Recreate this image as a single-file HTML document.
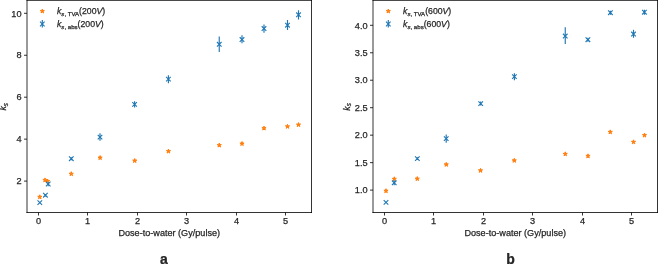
<!DOCTYPE html>
<html><head><meta charset="utf-8"><style>
html,body{margin:0;padding:0;background:#fff;width:658px;height:264px;overflow:hidden}
svg{display:block;will-change:transform}
text{font-family:"Liberation Sans", sans-serif;fill:#262626;stroke:#262626;stroke-width:0.25px}
</style></head><body>
<svg width="658" height="264" viewBox="0 0 658 264">
<rect width="658" height="264" fill="#fff"/>
<path d="M27.0,0.4H311.5M27.0,212.5H311.5M27.0,0.4V212.5M311.5,0.4V212.5" stroke="#000" stroke-width="0.8" fill="none" stroke-linecap="square"/>
<path d="M38.5,212.5v3" stroke="#000" stroke-width="0.8"/><text x="38.5" y="223.9" text-anchor="middle" font-size="9.2">0</text><path d="M87.5,212.5v3" stroke="#000" stroke-width="0.8"/><text x="87.5" y="223.9" text-anchor="middle" font-size="9.2">1</text><path d="M137.5,212.5v3" stroke="#000" stroke-width="0.8"/><text x="137.5" y="223.9" text-anchor="middle" font-size="9.2">2</text><path d="M186.5,212.5v3" stroke="#000" stroke-width="0.8"/><text x="186.5" y="223.9" text-anchor="middle" font-size="9.2">3</text><path d="M236.5,212.5v3" stroke="#000" stroke-width="0.8"/><text x="236.5" y="223.9" text-anchor="middle" font-size="9.2">4</text><path d="M285.5,212.5v3" stroke="#000" stroke-width="0.8"/><text x="285.5" y="223.9" text-anchor="middle" font-size="9.2">5</text>
<path d="M27.0,13.3h-3" stroke="#000" stroke-width="0.8"/><text x="21.6" y="16.5" text-anchor="end" font-size="9.2">10</text><path d="M27.0,55.25h-3" stroke="#000" stroke-width="0.8"/><text x="21.6" y="58.45" text-anchor="end" font-size="9.2">8</text><path d="M27.0,97.2h-3" stroke="#000" stroke-width="0.8"/><text x="21.6" y="100.4" text-anchor="end" font-size="9.2">6</text><path d="M27.0,139.15h-3" stroke="#000" stroke-width="0.8"/><text x="21.6" y="142.35" text-anchor="end" font-size="9.2">4</text><path d="M27.0,181.1h-3" stroke="#000" stroke-width="0.8"/><text x="21.6" y="184.29999999999998" text-anchor="end" font-size="9.2">2</text>
<path d="M373.0,0.4H657.5M373.0,212.5H657.5M373.0,0.4V212.5M657.5,0.4V212.5" stroke="#000" stroke-width="0.8" fill="none" stroke-linecap="square"/>
<path d="M384.5,212.5v3" stroke="#000" stroke-width="0.8"/><text x="384.5" y="223.9" text-anchor="middle" font-size="9.2">0</text><path d="M433.5,212.5v3" stroke="#000" stroke-width="0.8"/><text x="433.5" y="223.9" text-anchor="middle" font-size="9.2">1</text><path d="M483.5,212.5v3" stroke="#000" stroke-width="0.8"/><text x="483.5" y="223.9" text-anchor="middle" font-size="9.2">2</text><path d="M532.5,212.5v3" stroke="#000" stroke-width="0.8"/><text x="532.5" y="223.9" text-anchor="middle" font-size="9.2">3</text><path d="M582.5,212.5v3" stroke="#000" stroke-width="0.8"/><text x="582.5" y="223.9" text-anchor="middle" font-size="9.2">4</text><path d="M631.5,212.5v3" stroke="#000" stroke-width="0.8"/><text x="631.5" y="223.9" text-anchor="middle" font-size="9.2">5</text>
<path d="M373.0,25.3h-3" stroke="#000" stroke-width="0.8"/><text x="367.6" y="28.5" text-anchor="end" font-size="9.2">4.0</text><path d="M373.0,52.77h-3" stroke="#000" stroke-width="0.8"/><text x="367.6" y="55.970000000000006" text-anchor="end" font-size="9.2">3.5</text><path d="M373.0,80.23h-3" stroke="#000" stroke-width="0.8"/><text x="367.6" y="83.43" text-anchor="end" font-size="9.2">3.0</text><path d="M373.0,107.7h-3" stroke="#000" stroke-width="0.8"/><text x="367.6" y="110.9" text-anchor="end" font-size="9.2">2.5</text><path d="M373.0,135.16h-3" stroke="#000" stroke-width="0.8"/><text x="367.6" y="138.35999999999999" text-anchor="end" font-size="9.2">2.0</text><path d="M373.0,162.63h-3" stroke="#000" stroke-width="0.8"/><text x="367.6" y="165.82999999999998" text-anchor="end" font-size="9.2">1.5</text><path d="M373.0,190.1h-3" stroke="#000" stroke-width="0.8"/><text x="367.6" y="193.29999999999998" text-anchor="end" font-size="9.2">1.0</text>
<polygon points="39.80,194.80 40.29,196.32 41.89,196.32 40.60,197.26 41.09,198.78 39.80,197.84 38.51,198.78 39.00,197.26 37.71,196.32 39.31,196.32" fill="#ff7f0e" stroke="#ff7f0e" stroke-width="1.0" stroke-linejoin="miter"/>
<polygon points="45.00,177.90 45.49,179.42 47.09,179.42 45.80,180.36 46.29,181.88 45.00,180.94 43.71,181.88 44.20,180.36 42.91,179.42 44.51,179.42" fill="#ff7f0e" stroke="#ff7f0e" stroke-width="1.0" stroke-linejoin="miter"/>
<polygon points="47.60,179.00 48.09,180.52 49.69,180.52 48.40,181.46 48.89,182.98 47.60,182.04 46.31,182.98 46.80,181.46 45.51,180.52 47.11,180.52" fill="#ff7f0e" stroke="#ff7f0e" stroke-width="1.0" stroke-linejoin="miter"/>
<polygon points="71.25,171.70 71.74,173.22 73.34,173.22 72.05,174.16 72.54,175.68 71.25,174.74 69.96,175.68 70.45,174.16 69.16,173.22 70.76,173.22" fill="#ff7f0e" stroke="#ff7f0e" stroke-width="1.0" stroke-linejoin="miter"/>
<polygon points="100.10,155.60 100.59,157.12 102.19,157.12 100.90,158.06 101.39,159.58 100.10,158.64 98.81,159.58 99.30,158.06 98.01,157.12 99.61,157.12" fill="#ff7f0e" stroke="#ff7f0e" stroke-width="1.0" stroke-linejoin="miter"/>
<polygon points="134.75,158.55 135.24,160.07 136.84,160.07 135.55,161.01 136.04,162.53 134.75,161.59 133.46,162.53 133.95,161.01 132.66,160.07 134.26,160.07" fill="#ff7f0e" stroke="#ff7f0e" stroke-width="1.0" stroke-linejoin="miter"/>
<polygon points="168.45,149.10 168.94,150.62 170.54,150.62 169.25,151.56 169.74,153.08 168.45,152.14 167.16,153.08 167.65,151.56 166.36,150.62 167.96,150.62" fill="#ff7f0e" stroke="#ff7f0e" stroke-width="1.0" stroke-linejoin="miter"/>
<polygon points="219.25,143.10 219.74,144.62 221.34,144.62 220.05,145.56 220.54,147.08 219.25,146.14 217.96,147.08 218.45,145.56 217.16,144.62 218.76,144.62" fill="#ff7f0e" stroke="#ff7f0e" stroke-width="1.0" stroke-linejoin="miter"/>
<polygon points="242.00,141.50 242.49,143.02 244.09,143.02 242.80,143.96 243.29,145.48 242.00,144.54 240.71,145.48 241.20,143.96 239.91,143.02 241.51,143.02" fill="#ff7f0e" stroke="#ff7f0e" stroke-width="1.0" stroke-linejoin="miter"/>
<polygon points="264.00,126.10 264.49,127.62 266.09,127.62 264.80,128.56 265.29,130.08 264.00,129.14 262.71,130.08 263.20,128.56 261.91,127.62 263.51,127.62" fill="#ff7f0e" stroke="#ff7f0e" stroke-width="1.0" stroke-linejoin="miter"/>
<polygon points="287.50,124.35 287.99,125.87 289.59,125.87 288.30,126.81 288.79,128.33 287.50,127.39 286.21,128.33 286.70,126.81 285.41,125.87 287.01,125.87" fill="#ff7f0e" stroke="#ff7f0e" stroke-width="1.0" stroke-linejoin="miter"/>
<polygon points="298.50,122.60 298.99,124.12 300.59,124.12 299.30,125.06 299.79,126.58 298.50,125.64 297.21,126.58 297.70,125.06 296.41,124.12 298.01,124.12" fill="#ff7f0e" stroke="#ff7f0e" stroke-width="1.0" stroke-linejoin="miter"/>
<polygon points="386.00,188.70 386.49,190.22 388.09,190.22 386.80,191.16 387.29,192.68 386.00,191.74 384.71,192.68 385.20,191.16 383.91,190.22 385.51,190.22" fill="#ff7f0e" stroke="#ff7f0e" stroke-width="1.0" stroke-linejoin="miter"/>
<polygon points="394.30,176.80 394.79,178.32 396.39,178.32 395.10,179.26 395.59,180.78 394.30,179.84 393.01,180.78 393.50,179.26 392.21,178.32 393.81,178.32" fill="#ff7f0e" stroke="#ff7f0e" stroke-width="1.0" stroke-linejoin="miter"/>
<polygon points="417.25,176.60 417.74,178.12 419.34,178.12 418.05,179.06 418.54,180.58 417.25,179.64 415.96,180.58 416.45,179.06 415.16,178.12 416.76,178.12" fill="#ff7f0e" stroke="#ff7f0e" stroke-width="1.0" stroke-linejoin="miter"/>
<polygon points="446.25,162.35 446.74,163.87 448.34,163.87 447.05,164.81 447.54,166.33 446.25,165.39 444.96,166.33 445.45,164.81 444.16,163.87 445.76,163.87" fill="#ff7f0e" stroke="#ff7f0e" stroke-width="1.0" stroke-linejoin="miter"/>
<polygon points="480.50,168.35 480.99,169.87 482.59,169.87 481.30,170.81 481.79,172.33 480.50,171.39 479.21,172.33 479.70,170.81 478.41,169.87 480.01,169.87" fill="#ff7f0e" stroke="#ff7f0e" stroke-width="1.0" stroke-linejoin="miter"/>
<polygon points="514.25,158.35 514.74,159.87 516.34,159.87 515.05,160.81 515.54,162.33 514.25,161.39 512.96,162.33 513.45,160.81 512.16,159.87 513.76,159.87" fill="#ff7f0e" stroke="#ff7f0e" stroke-width="1.0" stroke-linejoin="miter"/>
<polygon points="565.25,151.85 565.74,153.37 567.34,153.37 566.05,154.31 566.54,155.83 565.25,154.89 563.96,155.83 564.45,154.31 563.16,153.37 564.76,153.37" fill="#ff7f0e" stroke="#ff7f0e" stroke-width="1.0" stroke-linejoin="miter"/>
<polygon points="588.00,153.85 588.49,155.37 590.09,155.37 588.80,156.31 589.29,157.83 588.00,156.89 586.71,157.83 587.20,156.31 585.91,155.37 587.51,155.37" fill="#ff7f0e" stroke="#ff7f0e" stroke-width="1.0" stroke-linejoin="miter"/>
<polygon points="610.25,129.85 610.74,131.37 612.34,131.37 611.05,132.31 611.54,133.83 610.25,132.89 608.96,133.83 609.45,132.31 608.16,131.37 609.76,131.37" fill="#ff7f0e" stroke="#ff7f0e" stroke-width="1.0" stroke-linejoin="miter"/>
<polygon points="633.50,139.85 633.99,141.37 635.59,141.37 634.30,142.31 634.79,143.83 633.50,142.89 632.21,143.83 632.70,142.31 631.41,141.37 633.01,141.37" fill="#ff7f0e" stroke="#ff7f0e" stroke-width="1.0" stroke-linejoin="miter"/>
<polygon points="644.50,133.10 644.99,134.62 646.59,134.62 645.30,135.56 645.79,137.08 644.50,136.14 643.21,137.08 643.70,135.56 642.41,134.62 644.01,134.62" fill="#ff7f0e" stroke="#ff7f0e" stroke-width="1.0" stroke-linejoin="miter"/>
<path d="M37.50,200.30L42.10,204.90M37.50,204.90L42.10,200.30" stroke="#1f77b4" stroke-width="1.1" fill="none"/>
<path d="M45.40,193.90V196.50" stroke="#1f77b4" stroke-width="1.15" fill="none"/>
<path d="M43.10,192.90L47.70,197.50M43.10,197.50L47.70,192.90" stroke="#1f77b4" stroke-width="1.1" fill="none"/>
<path d="M48.20,182.30V186.30" stroke="#1f77b4" stroke-width="1.15" fill="none"/>
<path d="M45.90,181.70L50.50,186.30M45.90,186.30L50.50,181.70" stroke="#1f77b4" stroke-width="1.1" fill="none"/>
<path d="M71.30,157.30V160.30" stroke="#1f77b4" stroke-width="1.15" fill="none"/>
<path d="M69.00,156.40L73.60,161.00M69.00,161.00L73.60,156.40" stroke="#1f77b4" stroke-width="1.1" fill="none"/>
<path d="M100.00,133.30V140.80" stroke="#1f77b4" stroke-width="1.15" fill="none"/>
<path d="M97.70,134.80L102.30,139.40M97.70,139.40L102.30,134.80" stroke="#1f77b4" stroke-width="1.1" fill="none"/>
<path d="M134.60,101.30V107.50" stroke="#1f77b4" stroke-width="1.15" fill="none"/>
<path d="M132.30,102.10L136.90,106.70M132.30,106.70L136.90,102.10" stroke="#1f77b4" stroke-width="1.1" fill="none"/>
<path d="M168.40,75.30V83.30" stroke="#1f77b4" stroke-width="1.15" fill="none"/>
<path d="M166.10,76.80L170.70,81.40M166.10,81.40L170.70,76.80" stroke="#1f77b4" stroke-width="1.1" fill="none"/>
<path d="M219.25,36.55V51.90" stroke="#1f77b4" stroke-width="1.15" fill="none"/>
<path d="M216.95,42.00L221.55,46.60M216.95,46.60L221.55,42.00" stroke="#1f77b4" stroke-width="1.1" fill="none"/>
<path d="M242.00,35.30V43.30" stroke="#1f77b4" stroke-width="1.15" fill="none"/>
<path d="M239.70,37.25L244.30,41.85M239.70,41.85L244.30,37.25" stroke="#1f77b4" stroke-width="1.1" fill="none"/>
<path d="M264.00,24.55V32.80" stroke="#1f77b4" stroke-width="1.15" fill="none"/>
<path d="M261.70,26.25L266.30,30.85M261.70,30.85L266.30,26.25" stroke="#1f77b4" stroke-width="1.1" fill="none"/>
<path d="M287.50,20.00V30.00" stroke="#1f77b4" stroke-width="1.15" fill="none"/>
<path d="M285.20,22.90L289.80,27.50M285.20,27.50L289.80,22.90" stroke="#1f77b4" stroke-width="1.1" fill="none"/>
<path d="M298.50,10.30V19.55" stroke="#1f77b4" stroke-width="1.15" fill="none"/>
<path d="M296.20,12.50L300.80,17.10M296.20,17.10L300.80,12.50" stroke="#1f77b4" stroke-width="1.1" fill="none"/>
<path d="M383.70,200.10L388.30,204.70M383.70,204.70L388.30,200.10" stroke="#1f77b4" stroke-width="1.1" fill="none"/>
<path d="M394.20,180.30V185.30" stroke="#1f77b4" stroke-width="1.15" fill="none"/>
<path d="M391.90,180.50L396.50,185.10M391.90,185.10L396.50,180.50" stroke="#1f77b4" stroke-width="1.1" fill="none"/>
<path d="M417.35,157.30V159.90" stroke="#1f77b4" stroke-width="1.15" fill="none"/>
<path d="M415.05,156.30L419.65,160.90M415.05,160.90L419.65,156.30" stroke="#1f77b4" stroke-width="1.1" fill="none"/>
<path d="M446.20,134.50V142.70" stroke="#1f77b4" stroke-width="1.15" fill="none"/>
<path d="M443.90,136.30L448.50,140.90M443.90,140.90L448.50,136.30" stroke="#1f77b4" stroke-width="1.1" fill="none"/>
<path d="M480.70,101.60V105.60" stroke="#1f77b4" stroke-width="1.15" fill="none"/>
<path d="M478.40,101.30L483.00,105.90M478.40,105.90L483.00,101.30" stroke="#1f77b4" stroke-width="1.1" fill="none"/>
<path d="M514.40,73.30V80.30" stroke="#1f77b4" stroke-width="1.15" fill="none"/>
<path d="M512.10,74.30L516.70,78.90M512.10,78.90L516.70,74.30" stroke="#1f77b4" stroke-width="1.1" fill="none"/>
<path d="M565.25,27.30V44.05" stroke="#1f77b4" stroke-width="1.15" fill="none"/>
<path d="M562.95,33.75L567.55,38.35M562.95,38.35L567.55,33.75" stroke="#1f77b4" stroke-width="1.1" fill="none"/>
<path d="M587.90,37.70V41.70" stroke="#1f77b4" stroke-width="1.15" fill="none"/>
<path d="M585.60,37.40L590.20,42.00M585.60,42.00L590.20,37.40" stroke="#1f77b4" stroke-width="1.1" fill="none"/>
<path d="M610.40,10.70V14.70" stroke="#1f77b4" stroke-width="1.15" fill="none"/>
<path d="M608.10,10.40L612.70,15.00M608.10,15.00L612.70,10.40" stroke="#1f77b4" stroke-width="1.1" fill="none"/>
<path d="M633.50,29.80V37.80" stroke="#1f77b4" stroke-width="1.15" fill="none"/>
<path d="M631.20,31.75L635.80,36.35M631.20,36.35L635.80,31.75" stroke="#1f77b4" stroke-width="1.1" fill="none"/>
<path d="M644.40,9.70V14.70" stroke="#1f77b4" stroke-width="1.15" fill="none"/>
<path d="M642.10,9.90L646.70,14.50M642.10,14.50L646.70,9.90" stroke="#1f77b4" stroke-width="1.1" fill="none"/>
<polygon points="42.30,9.00 42.79,10.52 44.39,10.52 43.10,11.46 43.59,12.98 42.30,12.04 41.01,12.98 41.50,11.46 40.21,10.52 41.81,10.52" fill="#ff7f0e" stroke="#ff7f0e" stroke-width="1.0" stroke-linejoin="miter"/><path d="M40.00,21.70L44.60,26.30M40.00,26.30L44.60,21.70" stroke="#1f77b4" stroke-width="1.1" fill="none"/><path d="M42.30,20.00V27.50" stroke="#1f77b4" stroke-width="1.15" fill="none"/><text x="57.0" y="14.299999999999999" font-size="8.7"><tspan font-style="italic">k</tspan><tspan font-size="6.1" dy="1.4"><tspan font-style="italic">s</tspan>, TVA</tspan><tspan dy="-1.4">(200</tspan><tspan font-style="italic">V</tspan><tspan>)</tspan></text><text x="57.0" y="27.1" font-size="8.7"><tspan font-style="italic">k</tspan><tspan font-size="6.1" dy="1.4"><tspan font-style="italic">s</tspan>, abs</tspan><tspan dy="-1.4">(200</tspan><tspan font-style="italic">V</tspan><tspan>)</tspan></text>
<polygon points="388.30,9.00 388.79,10.52 390.39,10.52 389.10,11.46 389.59,12.98 388.30,12.04 387.01,12.98 387.50,11.46 386.21,10.52 387.81,10.52" fill="#ff7f0e" stroke="#ff7f0e" stroke-width="1.0" stroke-linejoin="miter"/><path d="M386.00,21.70L390.60,26.30M386.00,26.30L390.60,21.70" stroke="#1f77b4" stroke-width="1.1" fill="none"/><path d="M388.30,20.00V27.50" stroke="#1f77b4" stroke-width="1.15" fill="none"/><text x="403.1" y="14.299999999999999" font-size="8.7"><tspan font-style="italic">k</tspan><tspan font-size="6.1" dy="1.4"><tspan font-style="italic">s</tspan>, TVA</tspan><tspan dy="-1.4">(600</tspan><tspan font-style="italic">V</tspan><tspan>)</tspan></text><text x="403.1" y="27.1" font-size="8.7"><tspan font-style="italic">k</tspan><tspan font-size="6.1" dy="1.4"><tspan font-style="italic">s</tspan>, abs</tspan><tspan dy="-1.4">(600</tspan><tspan font-style="italic">V</tspan><tspan>)</tspan></text>
<text transform="translate(5.9,110.6) rotate(-90)" font-size="8.8"><tspan font-style="italic">k</tspan><tspan font-size="6.3" dy="1.6" font-style="italic">s</tspan></text>
<text transform="translate(349.6,110.7) rotate(-90)" font-size="8.8"><tspan font-style="italic">k</tspan><tspan font-size="6.3" dy="1.6" font-style="italic">s</tspan></text>
<text x="169.25" y="235.6" text-anchor="middle" font-size="9.1">Dose-to-water (Gy/pulse)</text>
<text x="515.25" y="235.6" text-anchor="middle" font-size="9.1">Dose-to-water (Gy/pulse)</text>
<text x="164" y="264.2" text-anchor="middle" font-size="14" font-weight="bold">a</text>
<text x="510.6" y="264.2" text-anchor="middle" font-size="14" font-weight="bold">b</text>
</svg>
</body></html>
